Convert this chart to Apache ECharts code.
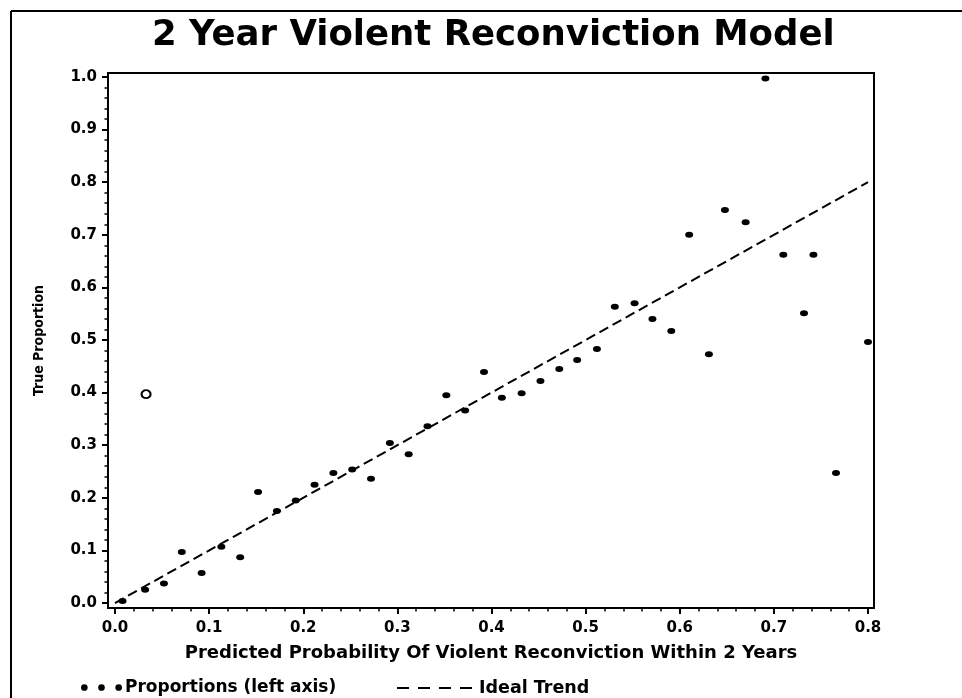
<!DOCTYPE html>
<html><head><meta charset="utf-8">
<script src="https://cdn.jsdelivr.net/npm/echarts@6/dist/echarts.min.js"></script>
<style>html,body{margin:0;padding:0;background:#fff}#c{width:962px;height:698px}</style>
</head><body><div id="c"></div>
<script>
const titleText = '2 Year Violent Reconviction Model';
const xAxisName = 'Predicted Probability Of Violent Reconviction Within 2 Years';
const yAxisName = 'True Proportion';
const seriesNames = ['Proportions (left axis)', 'Ideal Trend'];
const xTickValues = [0.0, 0.1, 0.2, 0.3, 0.4, 0.5, 0.6, 0.7, 0.8];
const yTickValues = [0.0, 0.1, 0.2, 0.3, 0.4, 0.5, 0.6, 0.7, 0.8, 0.9, 1.0];
const predicted = [0.008, 0.032, 0.052, 0.071, 0.092, 0.113, 0.133, 0.152, 0.172, 0.192,
  0.212, 0.232, 0.252, 0.272, 0.292, 0.312, 0.332, 0.352, 0.372, 0.392,
  0.411, 0.432, 0.452, 0.472, 0.491, 0.512, 0.531, 0.552, 0.571, 0.591,
  0.610, 0.631, 0.648, 0.670, 0.691, 0.710, 0.732, 0.742, 0.766, 0.800];
const trueProportion = [0.004, 0.025, 0.037, 0.097, 0.057, 0.107, 0.087, 0.211, 0.175, 0.195,
  0.225, 0.247, 0.254, 0.236, 0.304, 0.283, 0.336, 0.395, 0.366, 0.439,
  0.390, 0.399, 0.422, 0.445, 0.462, 0.483, 0.563, 0.570, 0.540, 0.517,
  0.700, 0.473, 0.747, 0.724, 0.997, 0.662, 0.551, 0.662, 0.247, 0.496];
const outlierX = [0.033];
const outlierY = [0.397];
const idealX = [0.0, 0.8];
const idealY = [0.0, 0.8];

const FONT = "'DejaVu Sans', sans-serif";
const chart = echarts.init(document.getElementById('c'), null, {renderer: 'canvas'});

const scatterData = predicted.map((x, i) => [x, trueProportion[i]]);
outlierX.forEach((x, i) => scatterData.push({
  value: [x, outlierY[i]], symbol: 'emptyCircle', symbolSize: [9, 8],
  itemStyle: {color: '#000', borderColor: '#000', borderWidth: 2}
}));
const idealData = idealX.map((x, i) => [x, idealY[i]]);

// minor ticks: 5 subdivisions between consecutive major ticks
function minorOf(ticks) {
  const out = [];
  for (let i = 0; i < ticks.length - 1; i++) {
    const step = (ticks[i + 1] - ticks[i]) / 5;
    for (let k = 1; k < 5; k++) out.push(+(ticks[i] + step * k).toFixed(4));
  }
  return out;
}
const xMinor = minorOf(xTickValues);
const yMinor = minorOf(yTickValues);

// the frame sits a few pixels outside the 0..0.8 / 0..1 data box
const xExt = [-0.00744, 0.80637];
const yExt = [-0.0095, 1.0076];

const labelStyle = {fontFamily: FONT, fontWeight: 'bold', fontSize: 15, color: '#000'};

chart.setOption({
  animation: false,
  backgroundColor: '#fff',
  title: {
    text: titleText, left: 147, top: 13,
    textStyle: {fontFamily: FONT, fontWeight: 'bold', fontSize: 35.5, color: '#000'}
  },
  graphic: [
    {type: 'line', shape: {x1: 11, y1: 11, x2: 962, y2: 11}, style: {stroke: '#000', lineWidth: 2}},
    {type: 'line', shape: {x1: 11, y1: 11, x2: 11, y2: 698}, style: {stroke: '#000', lineWidth: 2}}
  ],
  legend: [
    {
      data: [{name: seriesNames[0], icon: 'path://M0,3.5a3.5,3.5 0 1,0 7,0a3.5,3.5 0 1,0 -7,0zM18,3.5a3.5,3.5 0 1,0 7,0a3.5,3.5 0 1,0 -7,0zM36,3.5a3.5,3.5 0 1,0 7,0a3.5,3.5 0 1,0 -7,0z'}],
      left: 81, top: 679, itemWidth: 41, itemHeight: 7, padding: 0,
      textStyle: {fontFamily: FONT, fontWeight: 'bold', fontSize: 17, color: '#000', padding: [0, 0, 0, -2]}
    },
    {
      data: [{name: seriesNames[1], icon: 'path://M0,0h12v2h-12zM21,0h12v2h-12zM42,0h12v2h-12zM63,0h12v2h-12z'}],
      left: 397, top: 679, itemWidth: 75, itemHeight: 2, padding: 0,
      textStyle: {fontFamily: FONT, fontWeight: 'bold', fontSize: 17.5, color: '#000', padding: [0, 0, 0, 2]}
    }
  ],
  grid: [
    {left: 108, right: 88, top: 73, bottom: 90, show: true, borderColor: '#000', borderWidth: 2, backgroundColor: 'transparent'}
  ],
  xAxis: [
    {
      type: 'value', gridIndex: 0, min: xExt[0], max: xExt[1], position: 'bottom',
      name: xAxisName, nameLocation: 'middle', nameGap: 36,
      nameTextStyle: {fontFamily: FONT, fontWeight: 'bold', fontSize: 18, color: '#000'},
      axisLine: {show: true, onZero: false, lineStyle: {color: '#000', width: 2}},
      axisTick: {show: true, customValues: xTickValues, length: 6, lineStyle: {color: '#000', width: 2}},
      splitLine: {show: false},
      axisLabel: Object.assign({customValues: xTickValues, formatter: v => v.toFixed(1), margin: 13}, labelStyle)
    },
    {
      type: 'value', gridIndex: 0, min: xExt[0], max: xExt[1], position: 'bottom', offset: 0,
      axisLine: {show: false, onZero: false},
      axisTick: {show: true, customValues: xMinor, length: 3.5, lineStyle: {color: '#000', width: 1.5}},
      axisLabel: {show: false}, splitLine: {show: false}
    }
  ],
  yAxis: [
    {
      type: 'value', gridIndex: 0, min: yExt[0], max: yExt[1], position: 'left',
      name: yAxisName, nameLocation: 'middle', nameGap: 62, nameRotate: 90,
      nameTextStyle: {fontFamily: "'DejaVu Sans Condensed', 'DejaVu Sans', sans-serif", fontWeight: 'bold', fontSize: 14, color: '#000'},
      axisLine: {show: true, onZero: false, lineStyle: {color: '#000', width: 2}},
      axisTick: {show: true, customValues: yTickValues, length: 6, lineStyle: {color: '#000', width: 2}},
      splitLine: {show: false},
      axisLabel: Object.assign({customValues: yTickValues, formatter: v => v.toFixed(1), margin: 11}, labelStyle)
    },
    {
      type: 'value', gridIndex: 0, min: yExt[0], max: yExt[1], position: 'left', offset: 0,
      axisLine: {show: false, onZero: false},
      axisTick: {show: true, customValues: yMinor, length: 3.5, lineStyle: {color: '#000', width: 1.5}},
      axisLabel: {show: false}, splitLine: {show: false}
    }
  ],
  series: [
    {
      name: seriesNames[0], type: 'scatter', xAxisIndex: 0, yAxisIndex: 0,
      symbol: 'circle', symbolSize: [8, 6],
      itemStyle: {color: '#000', opacity: 1},
      data: scatterData, z: 3
    },
    {
      name: seriesNames[1], type: 'line', xAxisIndex: 0, yAxisIndex: 0,
      symbol: 'none', showSymbol: false,
      lineStyle: {color: '#000', width: 2, type: [10, 5]},
      itemStyle: {color: '#000'},
      data: idealData, z: 2
    }
  ]
});
</script>
</body></html>
